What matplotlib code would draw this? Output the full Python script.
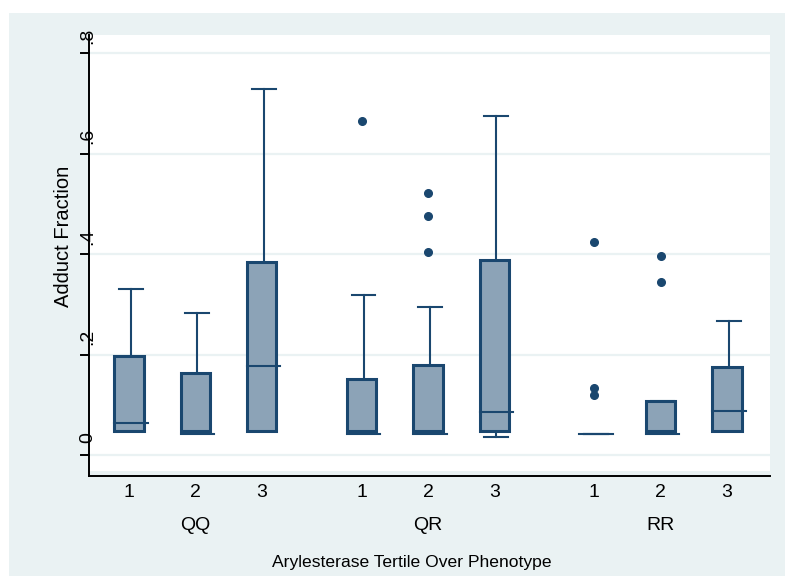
import matplotlib
matplotlib.use("Agg")
import matplotlib.pyplot as plt
from matplotlib.patches import Rectangle
from matplotlib.transforms import ScaledTranslation

plt.rcParams["font.family"] = ["Liberation Sans", "DejaVu Sans"]

# tertile 1-3 inside each phenotype group
groups = ["QQ", "QR", "RR"]
tertile_labels = ["1", "2", "3"] * 3
positions = [1, 2, 3, 4.5, 5.5, 6.5, 8, 9, 10]

q1 = [0.013, 0.013, 0.013, 0.013, 0.013, 0.013, 0.006, 0.013, 0.013]
q3 = [0.163, 0.128, 0.350, 0.117, 0.144, 0.353, 0.006, 0.073, 0.141]
median = [0.028, 0.006, 0.142, 0.006, 0.006, 0.051, 0.006, 0.006, 0.053]
whis_lo = [0.013, 0.013, 0.013, 0.013, 0.013, 0.001, 0.006, 0.013, 0.013]
whis_hi = [0.296, 0.249, 0.694, 0.284, 0.260, 0.641, 0.006, 0.073, 0.233]
fliers = [
    [], [], [],
    [0.631], [0.488, 0.441, 0.370], [],
    [0.390, 0.098, 0.084], [0.362, 0.309], [],
]

yticks = [0, 0.2, 0.4, 0.6, 0.8]
ytick_labels = ["0", ".2", ".4", ".6", ".8"]

navy = "#1a476f"
fill = "#8ca3b7"
bg = "#eaf2f3"

W, H, DPI = 785, 576, 100
fig = plt.figure(figsize=(W / DPI, H / DPI), dpi=DPI, facecolor="white")
fig.patches.append(
    Rectangle((9 / W, 0), (W - 9) / W, (H - 13) / H, transform=fig.transFigure,
              facecolor=bg, edgecolor="none", zorder=-10)
)

ax = fig.add_axes([89 / W, 100 / H, 681 / W, 441 / H])
ax.set_facecolor("white")
ax.set_xlim(0.398, 10.648)
ax.set_ylim(-0.0767, 0.8018)

# thin strip under the plot region, like the original
ax.add_patch(Rectangle((0, 0), 1, 5 / 441, transform=ax.transAxes,
                       facecolor=bg, edgecolor="none", zorder=0.5))

px = lambda n: ScaledTranslation(n / DPI, 0, fig.dpi_scale_trans)
py = lambda n: ScaledTranslation(0, -n / DPI, fig.dpi_scale_trans)

# grid lines and tick marks sit a bit below their labels
for v in yticks:
    g = ax.axhline(v, color=bg, linewidth=1.6, zorder=0.6)
    g.set_transform(g.get_transform() + py(17.5))
    ax.plot([-8 / 681, 0], [v, v], color="black", linewidth=1.4, clip_on=False,
            transform=ax.get_yaxis_transform() + py(17.5))

box_w = 0.44
cap_w = 0.36
med_ext = 0.06
for i, x in enumerate(positions):
    wx = ax.transData + px(2)
    ax.plot([x, x], [q3[i], whis_hi[i]], color=navy, linewidth=1.5, zorder=2, transform=wx)
    ax.plot([x, x], [whis_lo[i], q1[i]], color=navy, linewidth=1.5, zorder=2, transform=wx)
    for w in (whis_lo[i], whis_hi[i]):
        ax.plot([x - cap_w / 2, x + cap_w / 2], [w, w], color=navy, linewidth=1.5,
                zorder=2, transform=wx)
    if q3[i] > q1[i]:
        ax.add_patch(Rectangle((x - box_w / 2, q1[i]), box_w, q3[i] - q1[i],
                               facecolor=fill, edgecolor=navy, linewidth=2.2, zorder=3))
    ax.plot([x - box_w / 2, x + box_w / 2 + med_ext], [median[i], median[i]],
            color=navy, linewidth=1.5, zorder=4)
    if fliers[i]:
        ax.plot([x] * len(fliers[i]), fliers[i], linestyle="none", marker="o",
                markersize=5.5, markerfacecolor=navy, markeredgecolor=navy, zorder=4)

for side in ("top", "right"):
    ax.spines[side].set_visible(False)
for side in ("left", "bottom"):
    ax.spines[side].set_linewidth(1.4)
    ax.spines[side].set_color("black")

ax.set_yticks(yticks, labels=ytick_labels)
ax.tick_params(axis="y", length=0, pad=-5.5, labelrotation=90, labelsize=14)
for t in ax.get_yticklabels():
    t.set_va("center")
ax.set_xticks(positions, labels=tertile_labels)
ax.tick_params(axis="x", length=0, pad=6, labelsize=14)

for k, name in enumerate(groups):
    cx = sum(positions[3 * k:3 * k + 3]) / 3
    ax.annotate(name, xy=(cx, 0), xycoords=("data", "axes fraction"),
                xytext=(0, -35.5), textcoords="offset points",
                ha="center", va="center", fontsize=14)

fig.text(412 / W, 1 - 562 / H, "Arylesterase Tertile Over Phenotype",
         ha="center", va="center", fontsize=12.6)
fig.text(63.5 / W, 1 - 236 / H, "Adduct Fraction", rotation=90,
         ha="center", va="center", fontsize=14.5)

fig.savefig("out.png", dpi=DPI, facecolor="white")
